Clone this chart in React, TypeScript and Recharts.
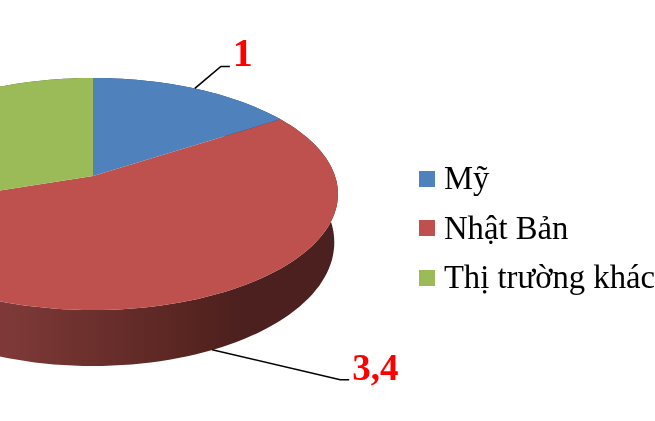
import { PieChart, Pie, Cell, Legend } from "recharts";

const markets = ["Mỹ", "Nhật Bản", "Thị trường khác"];
const shares = [1, 3.4, 1.9];
const labelTexts = ["1", "3,4"];
const colors = ["#4F81BD", "#BE514E", "#9BBB59"];
const sideColors = ["#2A4265", "url(#redSide)", "#50632B"];

const data = markets.map((name, i) => ({ name, value: shares[i] }));

// perspective of the tilted disc
const TILT = 0.155;
const FLATTEN = 0.468;
const DEPTH = 47;
const DEPTH_FRONT = 9;
const SHRINK = 0.985;

const project = (deg: number, cx: number, cy: number, r: number) => {
  const rad = (deg * Math.PI) / 180;
  const u = Math.sin(rad);
  const v = -Math.cos(rad);
  const d = 1 - TILT * v;
  return { x: cx + (r * u) / d, y: cy + (r * FLATTEN * v) / d, v };
};

const lower = (p: { x: number; y: number; v: number }, cx: number) => ({
  x: cx + (p.x - cx) * SHRINK,
  y: p.y + DEPTH + DEPTH_FRONT * p.v,
});

const rim = (from: number, to: number, cx: number, cy: number, r: number) => {
  const pts = [];
  const steps = Math.max(2, Math.ceil((to - from) / 2));
  for (let i = 0; i <= steps; i++) {
    pts.push(project(from + ((to - from) * i) / steps, cx, cy, r));
  }
  return pts;
};

const toPath = (pts: { x: number; y: number }[]) =>
  "M" + pts.map((p) => `${p.x.toFixed(1)},${p.y.toFixed(1)}`).join("L") + "Z";

const TopSlice = (props: any) => {
  const { cx, cy, outerRadius, startAngle, endAngle, fill } = props;
  const pts = rim(90 - startAngle, 90 - endAngle, cx, cy, outerRadius);
  return <path d={toPath([{ x: cx, y: cy }, ...pts])} fill={fill} stroke="none" />;
};

const SideSlice = (props: any) => {
  const { cx, cy, outerRadius, startAngle, endAngle, fill } = props;
  const pts = rim(90 - startAngle, 90 - endAngle, cx, cy, outerRadius);
  const under = pts.map((p) => lower(p, cx)).reverse();
  return <path d={toPath([...pts, ...under])} fill={fill} stroke="none" />;
};

// leader line offsets from each slice's rim midpoint
const leaders = [
  { sx: 0, sy: 0, dx: 26, dy: -22, run: 9, gap: 3, size: 40 },
  { sx: -1, sy: 0, dx: 128, dy: 30, run: 9, gap: 3, size: 37 },
];

const sliceLabel = (props: any) => {
  const { cx, cy, midAngle, outerRadius, index } = props;
  const leader = leaders[index];
  if (!leader) return null;
  const rimPoint = project(90 - midAngle, cx, cy, outerRadius);
  const anchor = rimPoint.v > 0 ? lower(rimPoint, cx) : rimPoint;
  const sx = anchor.x + leader.sx;
  const sy = anchor.y + leader.sy;
  const ex = sx + leader.dx;
  const ey = sy + leader.dy;
  return (
    <g key={index}>
      <polyline
        points={`${sx},${sy} ${ex},${ey} ${ex + leader.run},${ey}`}
        fill="none"
        stroke="#000"
        strokeWidth={1.6}
      />
      <text
        x={ex + leader.run + leader.gap}
        y={ey}
        fill="#FF0000"
        fontFamily="'Liberation Serif'"
        fontWeight="bold"
        fontSize={leader.size}
      >
        {labelTexts[index]}
      </text>
    </g>
  );
};

const legendContent = (props: any) => (
  <div>
    {props.payload
      .filter((item: any) => colors.includes(item.color))
      .map((item: any) => (
        <div
          key={item.value}
          style={{ display: "flex", alignItems: "center", height: 49.5, whiteSpace: "nowrap" }}
        >
          <span style={{ width: 16, height: 16, background: item.color, marginRight: 9 }} />
          <span style={{ fontFamily: "'Liberation Serif'", fontSize: 32.7, color: "#000" }}>
            {item.value}
          </span>
        </div>
      ))}
  </div>
);

export default function App() {
  return (
    <div style={{ position: "fixed", left: 0, top: 0 }}>
      <PieChart width={655} height={421} margin={{ top: 0, right: 0, bottom: 0, left: 0 }}>
        <defs>
          <linearGradient id="redSide" gradientUnits="userSpaceOnUse" x1={0} y1={0} x2={335} y2={0}>
            <stop offset="0%" stopColor="#7F3A38" />
            <stop offset="62%" stopColor="#54231F" />
            <stop offset="72%" stopColor="#4B201F" />
            <stop offset="100%" stopColor="#4B2020" />
          </linearGradient>
        </defs>
        <Pie
          data={data}
          dataKey="value"
          nameKey="name"
          cx={93}
          cy={176}
          outerRadius={242}
          startAngle={90}
          endAngle={-270}
          legendType="none"
          shape={SideSlice}
          isAnimationActive={false}
        >
          {data.map((d, i) => (
            <Cell key={d.name} fill={sideColors[i]} />
          ))}
        </Pie>
        <Pie
          data={data}
          dataKey="value"
          nameKey="name"
          cx={93}
          cy={176}
          outerRadius={242}
          startAngle={90}
          endAngle={-270}
          shape={TopSlice}
          label={sliceLabel}
          labelLine={false}
          isAnimationActive={false}
        >
          {data.map((d, i) => (
            <Cell key={d.name} fill={colors[i]} />
          ))}
        </Pie>
        <Legend
          layout="vertical"
          content={legendContent}
          wrapperStyle={{ left: 419, top: 154, width: 236 }}
        />
      </PieChart>
    </div>
  );
}
